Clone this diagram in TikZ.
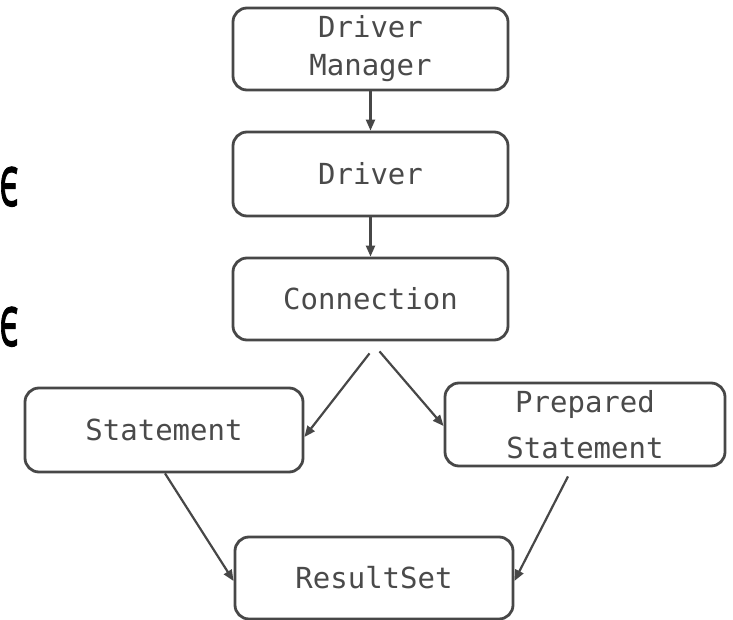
\documentclass[tikz,border=0pt]{standalone}
\usepackage{fontspec}
\newfontfamily\monof{DejaVu Sans Mono}
\newfontfamily\opensans{Open Sans}[FakeBold=1.5]
\usetikzlibrary{arrows.meta}
\definecolor{edgegray}{HTML}{474747}
\definecolor{textgray}{HTML}{4A4A4A}
\tikzset{
  box/.style={draw=edgegray, line width=2.8pt, rounded corners=14pt, fill=white,
    text=textgray, align=center, inner sep=0pt,
    font=\monof\fontsize{29}{38}\selectfont},
  conn/.style={draw=edgegray, line width=2.2pt,
    -{Triangle[length=11pt,width=9pt]}},
  bigletter/.style={anchor=base west, inner sep=0pt, text=black, xscale=0.55,
    font=\opensans\fontsize{72}{72}\selectfont}
}
\begin{document}
\begin{tikzpicture}[x=1pt,y=-1pt]
\useasboundingbox (0,0) rectangle (733,620);
\node[bigletter] (e1) at (-1,206) {є};
\node[bigletter] (e2) at (-1,346) {є};
\node[box, minimum width=275pt, minimum height=82pt] (dm) at (370.5,49) {Driver\\Manager};
\node[box, minimum width=275pt, minimum height=84pt] (drv) at (370.5,174) {Driver};
\node[box, minimum width=275pt, minimum height=82pt] (con) at (370.5,299) {Connection};
\node[box, minimum width=278pt, minimum height=84pt] (st) at (164,430) {Statement};
\node[box, minimum width=280pt, minimum height=83pt, font=\monof\fontsize{29}{46}\selectfont] (ps) at (585,424.5) {Prepared\\Statement};
\node[box, minimum width=278pt, minimum height=82pt] (rs) at (374,578) {ResultSet};
\coordinate (c1) at ([shift={(-1,12)}]con.south);
\coordinate (c2) at ([shift={(9,10)}]con.south);
\coordinate (p1) at ([shift={(-17,9)}]ps.south);
\draw[conn] (dm.south) -- (drv.north);
\draw[conn] (drv.south) -- (con.north);
\draw[conn] (c1) -- ([yshift=-7pt]st.east);
\draw[conn] (c2) -- ([yshift=-1.5pt]ps.west);
\draw[conn] ([xshift=1pt]st.south) -- ([yshift=-3pt]rs.west);
\draw[conn] (p1) -- ([yshift=-3pt]rs.east);
\end{tikzpicture}
\end{document}
